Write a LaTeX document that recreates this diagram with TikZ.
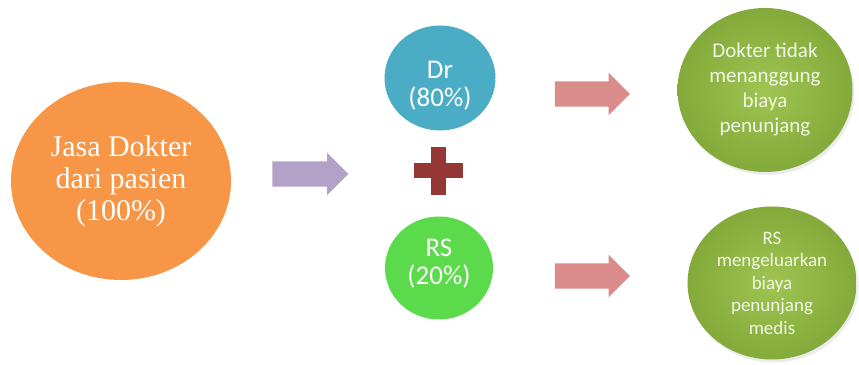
\documentclass[tikz,border=0pt]{standalone}
\usepackage{fontspec}
\setmainfont{Liberation Serif}
\newfontfamily\calibri{Carlito}
\usetikzlibrary{shapes.geometric,shapes.arrows,shadows}
\definecolor{jasaorange}{HTML}{F79646}
\definecolor{drblue}{HTML}{4BACC6}
\definecolor{rsgreen}{HTML}{5BDB4B}
\definecolor{ballin}{HTML}{9FC452}
\definecolor{ballout}{HTML}{83AA3A}
\definecolor{balltext}{HTML}{F2F6E6}
\definecolor{arrowpurple}{HTML}{B3A2C7}
\definecolor{arrowred}{HTML}{D98C8A}
\definecolor{plusred}{HTML}{953735}
\begin{document}
\begin{tikzpicture}[x=1pt,y=1pt,
  bulat/.style={ellipse,inner sep=0pt,align=center,text=white},
  panah/.style={single arrow,inner xsep=0pt,inner ysep=12.5pt,
    single arrow head extend=8.5pt,minimum height=76pt},
  bola/.style={ellipse,inner sep=0pt,align=center,text=balltext,
    inner color=ballin,outer color=ballout,
    drop shadow={opacity=0.15,shadow xshift=2pt,shadow yshift=-3pt}}]
\useasboundingbox (0,0) rectangle (859,364);
% sumber dana
\node[bulat,fill=jasaorange,minimum width=220pt,minimum height=198pt,
  font=\fontsize{30}{32}\selectfont] (pasien) at (121,183) {Jasa Dokter\\dari pasien\\(100\%)};
\node[panah,fill=arrowpurple] (p1) at (304,190) {};
% pembagian
\node[bulat,fill=drblue,minimum width=111pt,minimum height=105pt,
  font=\calibri\fontsize{27}{28}\selectfont] (dr) at (440,286) {\rule{0pt}{33pt}Dr\\(80\%)};
\node[bulat,fill=rsgreen,minimum width=108pt,minimum height=103pt,
  font=\calibri\fontsize{27}{28}\selectfont] (rs) at (439,96) {RS\\(20\%)\rule[-13pt]{0pt}{1pt}};
\coordinate (plus) at (438.5,193);
\fill[plusred] (414,186) rectangle (463,201);
\fill[plusred] (431,169) rectangle (446,217);
\node[panah,fill=arrowred,minimum height=75pt] (p2) at (586,270) {};
\node[panah,fill=arrowred,minimum height=75pt] (p3) at (586,88) {};
% akibat
\node[bola,minimum width=175pt,minimum height=164pt,
  font=\calibri\fontsize{21}{25}\selectfont] (b1) at (765,274)
  {Dokter tidak\\menanggung\\biaya\\penunjang};
\node[bola,minimum width=169pt,minimum height=153pt,
  font=\calibri\fontsize{19}{22.5}\selectfont] (b2) at (772,81)
  {RS\\mengeluarkan\\biaya\\penunjang\\medis};
\end{tikzpicture}
\end{document}
